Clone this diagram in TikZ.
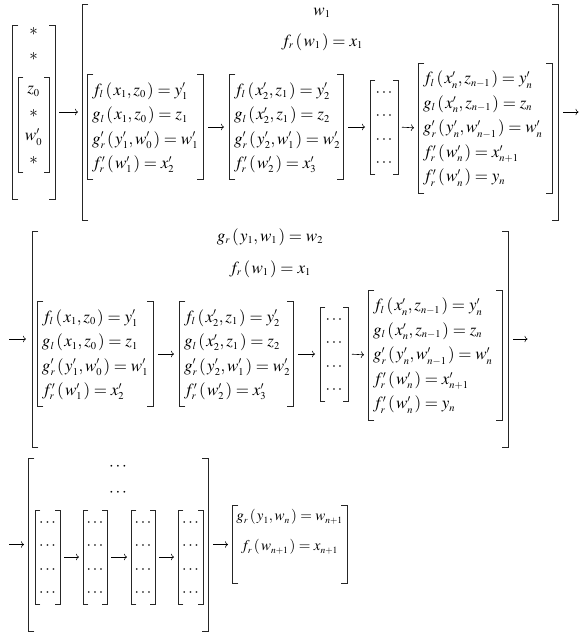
\documentclass[tikz,border=0pt]{standalone}
\usepackage{mathptmx}
\usetikzlibrary{arrows.meta}
\DeclareMathSizes{17}{17}{10.5}{8}
\DeclareMathSizes{15}{15}{9.5}{7}
\newcommand\pa[1]{\left(\mkern1.5mu #1\mkern1.5mu\right)}
\newcommand\mtx[2]{\makebox[#1][l]{\hspace{5pt}$\begin{array}{@{}l@{}}#2\end{array}$}}
\newcommand\ctr[1]{$\begin{array}{@{}c@{}}#1\end{array}$}
\newcommand\brk[2][6pt]{%
  \draw[brkline] ([xshift=#1]#2.north west) -- (#2.north west) -- (#2.south west) -- ([xshift=#1]#2.south west);
  \draw[brkline] ([xshift=-#1]#2.north east) -- (#2.north east) -- (#2.south east) -- ([xshift=-#1]#2.south east);}
\tikzset{
  brkline/.style={line width=0.85pt, black!85, line cap=rect},
  bx/.style 2 args={minimum width=#1, minimum height=#2},
  dotsbox/.style={minimum width=#1, minimum height=94pt, font=\fontsize{16}{23.5}\selectfont},
  arr/.style={line width=0.6pt, -{To[length=3pt,width=6.5pt]}, shorten <=5pt, shorten >=5pt},
  small/.style={font=\fontsize{15}{24.5}\selectfont},
}
\newcommand\chainrow[1]{%
  \node[bx={116pt}{105pt}] (#1a) at (145,127) {\mtx{116pt}{f_l\pa{x_1,z_0}=y_1' \\ g_l\pa{x_1,z_0}=z_1 \\ g_r'\pa{y_1',w_0'}=w_1' \\ f_r'\pa{w_1'}=x_2'}};
  \node[bx={114pt}{105pt}] (#1b) at (286,127) {\mtx{114pt}{f_l\pa{x_2',z_1}=y_2' \\ g_l\pa{x_2',z_1}=z_2 \\ g_r'\pa{y_2',w_1'}=w_2' \\ f_r'\pa{w_2'}=x_3'}};
  \node[dotsbox=28pt] (#1c) at (384,127) {\ctr{\cdots\\\cdots\\\cdots\\\cdots}};
  \node[bx={134pt}{130pt}] (#1d) at (485,128) {\mtx{134pt}{f_l\pa{x_n',z_{n-1}}=y_n' \\ g_l\pa{x_n',z_{n-1}}=z_n \\ g_r'\pa{y_n',w_{n-1}'}=w_n' \\ f_r'\pa{w_n'}=x_{n+1}' \\ f_r'\pa{w_n'}=y_n}};
  \node[bx={476pt}{216pt}] (#1big) at (320,112) {};
  \brk{#1a}\brk{#1b}\brk[5pt]{#1c}\brk{#1d}\brk{#1big}
  \draw[arr] (#1a.east) -- (#1b.west);
  \draw[arr] (#1b.east) -- (#1c.west);
  \draw[arr, shorten <=4pt, shorten >=4pt] (#1c.east) -- (#1d.west);
}
\begin{document}
\begin{tikzpicture}[x=1pt,y=-1pt,
  every node/.style={inner sep=0pt, outer sep=0pt},
  font=\fontsize{17}{24.5}\selectfont]
\useasboundingbox (0,0) rectangle (579,632);

% ---------- row 1 ----------
\node[bx={43pt}{174pt}] (v0) at (33.5,112) {};
\node (s1) at (33.5,32) {$\ast$};
\node (s2) at (33.5,57) {$\ast$};
\node[bx={31pt}{95pt}, font=\fontsize{17}{23.5}\selectfont] (v0in) at (33.5,124.5) {\ctr{z_0\\ \ast \\ w_0' \\ \ast}};
\brk[6pt]{v0}\brk[5pt]{v0in}
\chainrow{p}
\node (p1) at (322,13) {$w_1$};
\node (p2) at (322,42) {$f_r\pa{w_1}=x_1$};
\draw[arr, shorten <=4pt, shorten >=4pt] (v0.east) -- (pbig.west);
\coordinate (pout) at (578.5,112);
\draw[arr, shorten >=0pt] (pbig.east) -- (pout);

% ---------- row 2 ----------
\begin{scope}[shift={(-50,227)}]
\chainrow{q}
\end{scope}
\node (q1) at (270,237) {$g_r\pa{y_1,w_1}=w_2$};
\node (q2) at (270,269) {$f_r\pa{w_1}=x_1$};
\coordinate (qin) at (9,339);
\draw[arr, shorten <=0pt, shorten >=6pt] (qin) -- (qbig.west);
\coordinate (qout) at (527.5,339);
\draw[arr, shorten >=0pt] (qbig.east) -- (qout);

% ---------- row 3 ----------
\node[bx={180pt}{173pt}] (big3) at (118,544.5) {};
\node (t1) at (118,467) {$\cdots$};
\node (t2) at (118,493) {$\cdots$};
\node[dotsbox=25pt] (d1) at (47.5,557) {\ctr{\cdots\\\cdots\\\cdots\\\cdots}};
\node[dotsbox=24pt] (d2) at (95,557) {\ctr{\cdots\\\cdots\\\cdots\\\cdots}};
\node[dotsbox=24pt] (d3) at (143,557) {\ctr{\cdots\\\cdots\\\cdots\\\cdots}};
\node[dotsbox=25pt] (d4) at (190.5,557) {\ctr{\cdots\\\cdots\\\cdots\\\cdots}};
\brk{big3}\brk[5pt]{d1}\brk[5pt]{d2}\brk[5pt]{d3}\brk[5pt]{d4}
\draw[arr, shorten <=4pt, shorten >=4pt] (d1.east) -- (d2.west);
\draw[arr, shorten <=4pt, shorten >=4pt] (d2.east) -- (d3.west);
\draw[arr, shorten <=4pt, shorten >=4pt] (d3.east) -- (d4.west);
\coordinate (rin) at (9,544.5);
\draw[arr, shorten <=0pt, shorten >=4pt] (rin) -- (big3.west);
\node[bx={115pt}{78pt}] (fin) at (289.5,544.5) {};
\node[small] (f1) at (289.5,517) {$g_r\pa{y_1,w_n}=w_{n+1}$};
\node[small] (f2) at (289.5,547) {$f_r\pa{w_{n+1}}=x_{n+1}$};
\brk{fin}
\draw[arr, shorten >=4pt] (big3.east) -- (fin.west);
\end{tikzpicture}
\end{document}
